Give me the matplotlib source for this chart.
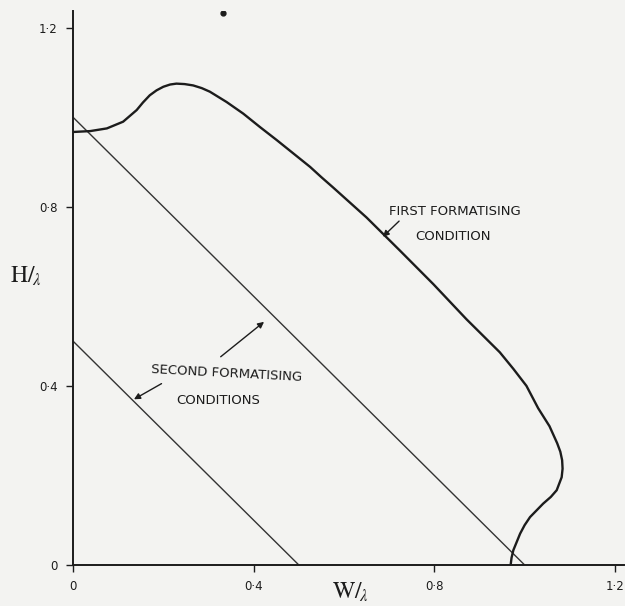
import matplotlib
matplotlib.use("Agg")
import matplotlib.pyplot as plt

# first formatising condition (curve)
curve_w = [0.0, 0.038, 0.075, 0.111, 0.141, 0.155, 0.170, 0.185, 0.200, 0.215,
           0.229, 0.247, 0.266, 0.285, 0.303, 0.340, 0.377, 0.414, 0.451, 0.488,
           0.525, 0.550, 0.576, 0.650, 0.724, 0.798, 0.871, 0.945, 0.975, 1.004,
           1.030, 1.055, 1.072, 1.079, 1.083, 1.084, 1.082, 1.071, 1.058, 1.041,
           1.012, 1.000, 0.990, 0.975, 0.971, 0.969]
curve_h = [0.967, 0.969, 0.975, 0.990, 1.016, 1.033, 1.049, 1.060, 1.068, 1.073,
           1.075, 1.074, 1.071, 1.065, 1.057, 1.034, 1.008, 0.978, 0.949, 0.919,
           0.889, 0.866, 0.843, 0.776, 0.702, 0.627, 0.549, 0.475, 0.438, 0.400,
           0.350, 0.310, 0.272, 0.253, 0.234, 0.215, 0.196, 0.167, 0.152, 0.137,
           0.107, 0.089, 0.070, 0.033, 0.016, 0.0]

# second formatising conditions (two straight lines)
upper_w = [0.0, 1.0]
upper_h = [1.0, 0.0]
lower_w = [0.0, 0.5]
lower_h = [0.5, 0.0]

ticks = [0.0, 0.4, 0.8, 1.2]
tick_labels = ["0", "0·4", "0·8", "1·2"]

speck_w = [0.332]
speck_h = [1.232]

paper = "#f3f3f1"
ink = "#1c1c1c"

plt.rcParams["mathtext.fontset"] = "stix"

fig = plt.figure(figsize=(6.25, 6.06), dpi=100, facecolor=paper)
ax = fig.add_axes([0.1168, 0.0677, 0.8816, 0.914])
ax.set_facecolor(paper)

ax.plot(upper_w, upper_h, color="#333333", lw=1.0, solid_capstyle="butt")
ax.plot(lower_w, lower_h, color="#333333", lw=1.0, solid_capstyle="butt")
ax.plot(curve_w, curve_h, color=ink, lw=1.7, solid_joinstyle="round")
ax.plot(speck_w, speck_h, "o", color=ink, ms=3.5)

ax.set_xlim(0, 1.22)
ax.set_ylim(0, 1.237)
for s in ["top", "right"]:
    ax.spines[s].set_visible(False)
for s in ["left", "bottom"]:
    ax.spines[s].set_linewidth(1.4)
    ax.spines[s].set_color(ink)

ax.set_xticks(ticks)
ax.set_xticklabels(tick_labels)
ax.set_yticks(ticks)
ax.set_yticklabels(tick_labels)
ax.tick_params(direction="out", length=5, width=1.0, colors=ink,
               labelsize=8.5, pad=6)

# axis labels
fig.text(0.016, 0.545, r"$\mathrm{H}/_{\!\lambda}$", fontsize=17, color=ink,
         ha="left", va="center")
fig.text(0.532, 0.003, r"$\mathrm{W}/_{\!\lambda}$", fontsize=17, color=ink,
         ha="left", va="bottom")

# annotations
txt = dict(fontsize=9.5, color=ink, ha="center", va="center")
arrow = dict(arrowstyle="-|>", color=ink, lw=1.0, mutation_scale=9,
             shrinkA=0, shrinkB=0)

ax.text(0.846, 0.789, "FIRST FORMATISING", **txt)
ax.text(0.841, 0.734, "CONDITION", **txt)
ax.annotate("", xy=(0.686, 0.733), xytext=(0.722, 0.768), arrowprops=arrow)

ax.text(0.341, 0.428, "SECOND FORMATISING", rotation=-3, **txt)
ax.text(0.322, 0.368, "CONDITIONS", **txt)
ax.annotate("", xy=(0.135, 0.370), xytext=(0.196, 0.405), arrowprops=arrow)
ax.annotate("", xy=(0.423, 0.543), xytext=(0.327, 0.465), arrowprops=arrow)

fig.savefig("out.png", dpi=100, facecolor=paper)
